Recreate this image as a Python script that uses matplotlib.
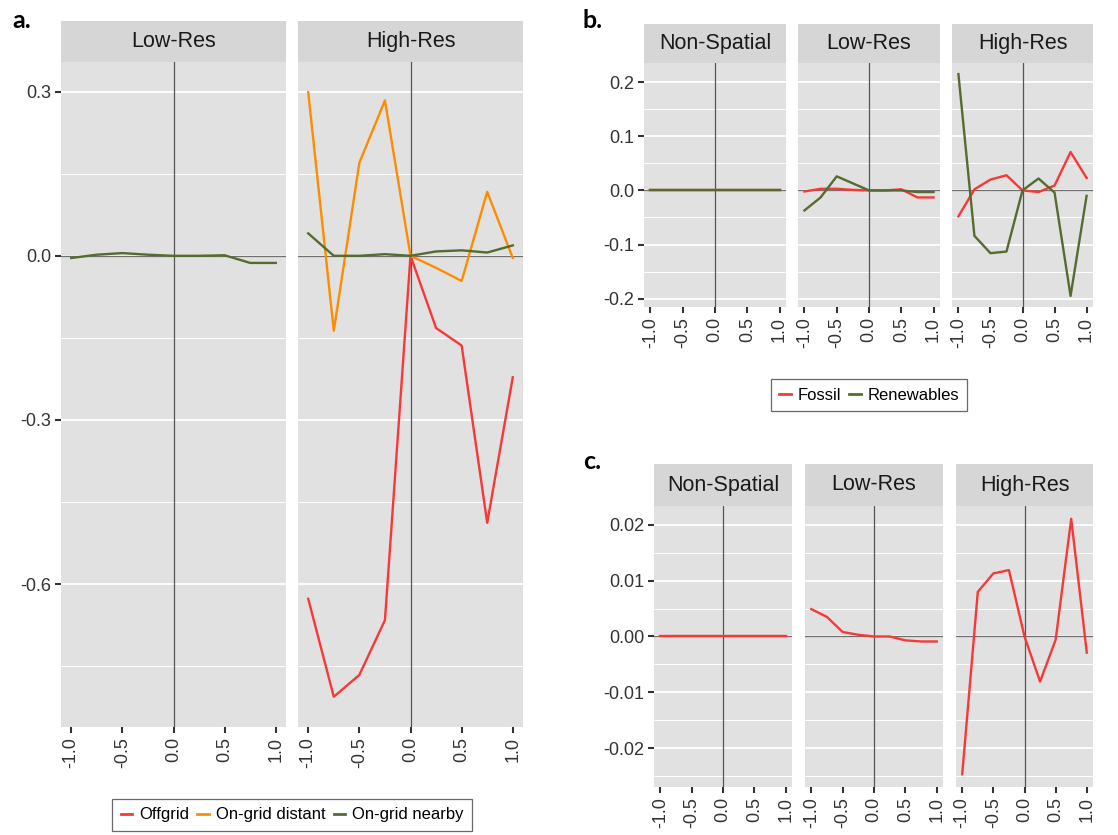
import numpy as np
import matplotlib
matplotlib.use("Agg")
import matplotlib.pyplot as plt
from matplotlib.ticker import MultipleLocator, FuncFormatter
from matplotlib.lines import Line2D

plt.rcParams['font.family'] = ['Liberation Sans', 'DejaVu Sans']

# x positions shared by every facet
x = [-1.0, -0.75, -0.5, -0.25, 0.0, 0.25, 0.5, 0.75, 1.0]

# panel a
a_low_nearby = [-0.004, 0.002, 0.005, 0.002, 0.0, 0.0, 0.001, -0.013, -0.013]
a_high_offgrid = [-0.627, -0.806, -0.766, -0.666, 0.0, -0.132, -0.164, -0.488, -0.222]
a_high_distant = [0.299, -0.137, 0.170, 0.284, 0.0, -0.022, -0.046, 0.117, -0.004]
a_high_nearby = [0.041, 0.0, 0.0, 0.003, 0.0, 0.008, 0.010, 0.006, 0.019]

# panel b
b_ns_fossil = [0, 0, 0, 0, 0, 0, 0, 0, 0]
b_ns_renew = [0, 0, 0, 0, 0, 0, 0, 0, 0]
b_low_fossil = [-0.002, 0.003, 0.003, 0.001, 0.0, 0.0, 0.002, -0.013, -0.013]
b_low_renew = [-0.037, -0.013, 0.026, 0.013, 0.0, 0.0, 0.0, -0.003, -0.003]
b_high_fossil = [-0.048, 0.002, 0.020, 0.028, 0.0, -0.003, 0.009, 0.071, 0.023]
b_high_renew = [0.215, -0.084, -0.116, -0.113, 0.0, 0.022, -0.004, -0.195, -0.010]

# panel c
c_ns = [0, 0, 0, 0, 0, 0, 0, 0, 0]
c_low = [0.0049, 0.0035, 0.0008, 0.0003, 0.0, 0.0, -0.0007, -0.0009, -0.0009]
c_high = [-0.0247, 0.0080, 0.0113, 0.0119, 0.0, -0.0081, -0.0006, 0.0211, -0.0029]

RED = '#F83838'
ORANGE = '#FF8C00'
GREEN = '#556B2F'

W, H = 1118, 835
fig = plt.figure(figsize=(W / 100, H / 100), dpi=100)


def rect(x0, y0, x1, y1):
    return [x0 / W, 1 - y1 / H, (x1 - x0) / W, (y1 - y0) / H]


def lims(*series):
    vals = np.concatenate([np.asarray(s, float) for s in series])
    lo, hi = vals.min(), vals.max()
    pad = 0.05 * (hi - lo)
    return lo - pad, hi + pad


def facet(x0, x1, y_strip, y0, y1, title, series, ylim, major, fmt, show_y):
    ax = fig.add_axes(rect(x0, y0, x1, y1))
    ax.set_facecolor('#E1E1E1')
    ax.set_xlim(-1.1, 1.1)
    ax.set_ylim(*ylim)
    ax.yaxis.set_major_locator(MultipleLocator(major))
    ax.yaxis.set_minor_locator(MultipleLocator(major / 2))
    ax.xaxis.set_major_locator(MultipleLocator(0.5))
    ax.grid(which='major', axis='y', color='white', lw=1.3)
    ax.grid(which='minor', axis='y', color='white', lw=0.7)
    ax.set_axisbelow(True)
    for s in ax.spines.values():
        s.set_visible(False)
    ax.axhline(0, color='#707070', lw=0.9, zorder=1)
    ax.axvline(0, color='#555555', lw=0.9, zorder=1)
    for vals, col in series:
        ax.plot(x, vals, color=col, lw=1.7, zorder=3)
    ax.tick_params(axis='both', which='major', length=4, width=1.5,
                   color='#333333', labelcolor='#333333', labelsize=13, pad=3)
    ax.tick_params(axis='y', which='minor', length=0)
    ax.xaxis.set_major_formatter(FuncFormatter(lambda v, p: f"{v:.1f}"))
    for lab in ax.get_xticklabels():
        lab.set_rotation(90)
    if show_y:
        ax.yaxis.set_major_formatter(FuncFormatter(lambda v, p: f"{v:.{fmt}f}"))
    else:
        ax.tick_params(axis='y', which='major', length=0, labelleft=False)
    st = fig.add_axes(rect(x0, y_strip, x1, y0))
    st.set_facecolor('#D6D6D6')
    st.set_xticks([])
    st.set_yticks([])
    for s in st.spines.values():
        s.set_visible(False)
    st.text(0.5, 0.5, title, ha='center', va='center', fontsize=15.5,
            color='#1A1A1A', transform=st.transAxes)
    return ax


# ---- panel a ----
ya = lims(a_low_nearby, a_high_offgrid, a_high_distant, a_high_nearby)
facet(61, 286, 21, 62, 727, 'Low-Res', [(a_low_nearby, GREEN)], ya, 0.3, 1, True)
facet(298, 523, 21, 62, 727, 'High-Res',
      [(a_high_offgrid, RED), (a_high_distant, ORANGE), (a_high_nearby, GREEN)],
      ya, 0.3, 1, False)

# ---- panel b ----
yb = lims(b_ns_fossil, b_low_fossil, b_low_renew, b_high_fossil, b_high_renew)
facet(644, 786, 24, 63, 307, 'Non-Spatial',
      [(b_ns_fossil, RED), (b_ns_renew, GREEN)], yb, 0.1, 1, True)
facet(798, 940, 24, 63, 307, 'Low-Res',
      [(b_low_fossil, RED), (b_low_renew, GREEN)], yb, 0.1, 1, False)
facet(952, 1093, 24, 63, 307, 'High-Res',
      [(b_high_fossil, RED), (b_high_renew, GREEN)], yb, 0.1, 1, False)

# ---- panel c ----
yc = lims(c_ns, c_low, c_high)
facet(654, 792, 464, 506, 787, 'Non-Spatial', [(c_ns, RED)], yc, 0.01, 2, True)
facet(805, 943, 464, 506, 787, 'Low-Res', [(c_low, RED)], yc, 0.01, 2, False)
facet(956, 1093, 464, 506, 787, 'High-Res', [(c_high, RED)], yc, 0.01, 2, False)

# panel letters
fig.text(12 / W, 1 - 20 / H, 'a.', fontsize=18, fontweight='bold',
         family=['Lato', 'DejaVu Sans'], va='center')
fig.text(583 / W, 1 - 20 / H, 'b.', fontsize=18, fontweight='bold',
         family=['Lato', 'DejaVu Sans'], va='center')
fig.text(583 / W, 1 - 462 / H, 'c.', fontsize=18, fontweight='bold',
         family=['Lato', 'DejaVu Sans'], va='center')

# legends
def legend(labels, colors, cx, cy):
    handles = [Line2D([], [], color=c, lw=2) for c in colors]
    leg = fig.legend(handles, labels, loc='center', bbox_to_anchor=(cx / W, 1 - cy / H),
                     ncol=len(labels), fontsize=12, frameon=True, fancybox=False,
                     handlelength=0.7, handletextpad=0.4, columnspacing=0.5,
                     borderpad=0.5, edgecolor='#444444')
    leg.get_frame().set_linewidth(0.9)


legend(['Offgrid', 'On-grid distant', 'On-grid nearby'], [RED, ORANGE, GREEN], 292, 815)
legend(['Fossil', 'Renewables'], [RED, GREEN], 869, 395)

fig.savefig('out.png', dpi=100)
